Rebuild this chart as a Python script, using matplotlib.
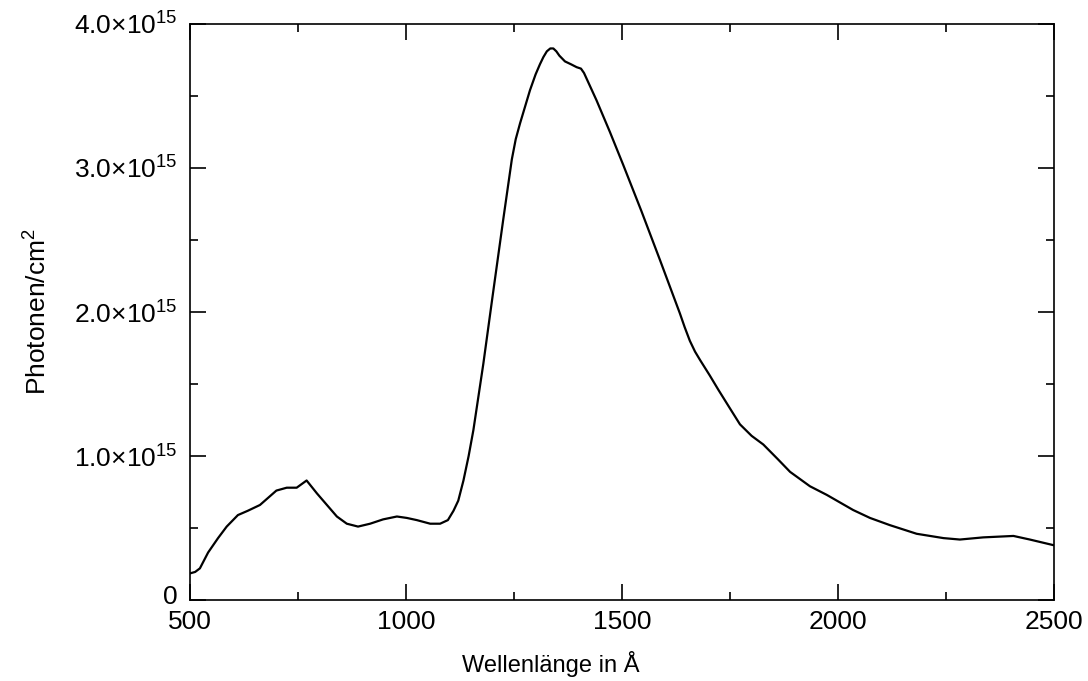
import matplotlib
matplotlib.use('Agg')
import matplotlib.pyplot as plt
from matplotlib.ticker import MultipleLocator, FuncFormatter
from matplotlib.transforms import ScaledTranslation

plt.rcParams['font.family'] = ['Liberation Sans', 'DejaVu Sans']
plt.rcParams['mathtext.fontset'] = 'custom'
plt.rcParams['mathtext.rm'] = 'Liberation Sans'
plt.rcParams['mathtext.it'] = 'Liberation Sans'

# wavelength in Angstrom, photons per cm^2 in units of 1e15
wavelength = [500, 512, 523, 542, 565, 585, 611, 634, 662, 681, 700, 724, 747,
              770, 794, 817, 840, 863, 889, 917, 947, 979, 1002, 1025, 1056,
              1079, 1097, 1110, 1121, 1133, 1145, 1156, 1179, 1200, 1225, 1245,
              1254, 1264, 1287, 1300, 1310, 1318, 1326, 1334, 1341, 1348, 1355,
              1368, 1382, 1395, 1405, 1412, 1441, 1472, 1503, 1545, 1588, 1634,
              1645, 1657, 1669, 1681, 1703, 1723, 1750, 1773, 1800, 1827, 1860,
              1889, 1935, 1974, 2035, 2074, 2120, 2182, 2244, 2282, 2336, 2406,
              2444, 2500]
photons = [0.185, 0.195, 0.22, 0.33, 0.43, 0.51, 0.59, 0.62, 0.66, 0.71, 0.76,
           0.78, 0.78, 0.83, 0.74, 0.66, 0.58, 0.53, 0.51, 0.53, 0.56, 0.58,
           0.57, 0.555, 0.53, 0.53, 0.555, 0.62, 0.69, 0.83, 1.0, 1.18, 1.64,
           2.1, 2.64, 3.06, 3.2, 3.31, 3.54, 3.65, 3.72, 3.77, 3.81, 3.83,
           3.83, 3.81, 3.78, 3.74, 3.72, 3.70, 3.69, 3.66, 3.47, 3.25, 3.02,
           2.70, 2.36, 1.99, 1.895, 1.80, 1.725, 1.665, 1.56, 1.46, 1.33, 1.22,
           1.14, 1.08, 0.98, 0.89, 0.79, 0.73, 0.625, 0.57, 0.52, 0.46, 0.43,
           0.42, 0.435, 0.445, 0.42, 0.38]


def ylabel_fmt(v, pos):
    if abs(v) < 1e-9:
        return '0'
    return '%.1f×10$^{15}$' % v


fig = plt.figure(figsize=(10.88, 6.81), dpi=100)
ax = fig.add_axes([0.1746, 0.1189, 0.7942, 0.8459])
ax.plot(wavelength, photons, color='black', linewidth=1.6,
        solid_joinstyle='round')

ax.set_xlim(500, 2500)
ax.set_ylim(0, 4.0)
ax.xaxis.set_major_locator(MultipleLocator(500))
ax.xaxis.set_minor_locator(MultipleLocator(250))
ax.yaxis.set_major_locator(MultipleLocator(1.0))
ax.yaxis.set_minor_locator(MultipleLocator(0.5))
ax.yaxis.set_major_formatter(FuncFormatter(ylabel_fmt))

ax.tick_params(which='both', direction='in', top=True, right=True,
               width=1.2, labelsize=19)
ax.tick_params(which='major', length=11.5)
ax.tick_params(which='minor', length=5.8)
ax.tick_params(axis='x', pad=7)
ax.tick_params(axis='y', pad=9)
for sp in ax.spines.values():
    sp.set_linewidth(1.2)

ax.set_xlabel('Wellenlänge in Å', fontsize=17)
ax.xaxis.set_label_coords(0.417, -0.088)
ax.set_ylabel('Photonen/cm$^2$', fontsize=19, labelpad=16)

# nudge the "0" label up so it clears the "500" below it
fig.canvas.draw()
for lbl in ax.yaxis.get_majorticklabels():
    if lbl.get_text() == '0':
        lbl.set_transform(lbl.get_transform()
                          + ScaledTranslation(0, 4 / 72, fig.dpi_scale_trans))

fig.savefig('out.png', dpi=100)
